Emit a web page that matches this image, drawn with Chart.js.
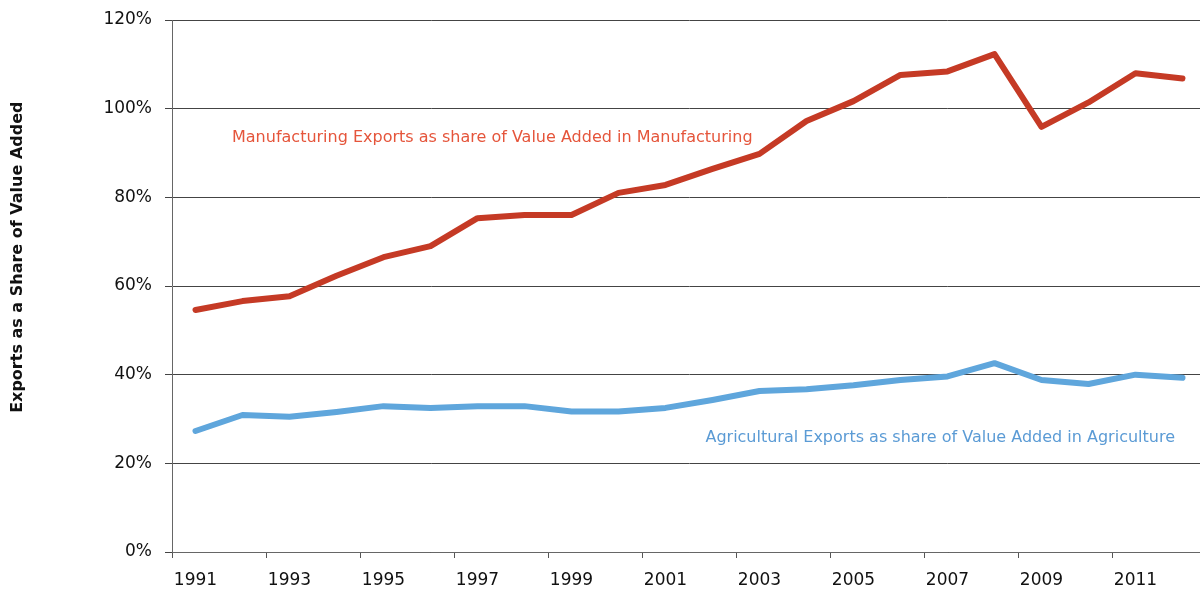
<!DOCTYPE html>
<html>
<head>
<meta charset="utf-8">
<script src="https://cdn.jsdelivr.net/npm/chart.js@4/dist/chart.umd.min.js"></script>
<style>
    html, body { margin: 0; padding: 0; background: #fff; overflow: hidden; }
    #wrap { width: 1206px; height: 590px; }
</style>
</head>
<body>
<div id="wrap"><canvas id="exports-chart"></canvas></div>
<script>
// Años (eje X) y series en % del valor agregado
const years = ['1991', '1992', '1993', '1994', '1995', '1996', '1997', '1998', '1999', '2000', '2001',
    '2002', '2003', '2004', '2005', '2006', '2007', '2008', '2009', '2010', '2011', '2012'];

const manufacturingShare = [54.6, 56.6, 57.7, 62.3, 66.5, 69.0, 75.3, 76.0, 76.0, 81.0, 82.8,
    86.4, 89.8, 97.2, 101.7, 107.6, 108.4, 112.3, 95.9, 101.4, 108.0, 106.8];

const agricultureShare = [27.3, 30.9, 30.5, 31.6, 32.9, 32.5, 32.9, 32.9, 31.7, 31.7, 32.5,
    34.3, 36.3, 36.7, 37.6, 38.8, 39.6, 42.6, 38.8, 37.9, 40.0, 39.3];

const yTicks = [0, 20, 40, 60, 80, 100, 120];

const RED = '#c53a25';
const BLUE = '#5fa6dc';
const FONT = '"DejaVu Sans", sans-serif';

// Etiquetas de texto junto a cada serie y título vertical del eje Y
const seriesLabels = {
    id: 'seriesLabels',
    afterDatasetsDraw(chart) {
        const { ctx, chartArea, scales } = chart;
        ctx.save();
        ctx.font = '16px ' + FONT;
        ctx.textBaseline = 'middle';

        ctx.fillStyle = '#e5553b';
        ctx.textAlign = 'left';
        ctx.fillText('Manufacturing Exports as share of Value Added in Manufacturing',
            chartArea.left + 60, scales.y.getPixelForValue(93.4));

        ctx.fillStyle = '#5b9bd5';
        ctx.textAlign = 'right';
        ctx.fillText('Agricultural Exports as share of Value Added in Agriculture',
            chartArea.right - 31, scales.y.getPixelForValue(25.7));

        // título del eje, algo por encima del centro
        ctx.translate(18, scales.y.getPixelForValue(66.5));
        ctx.rotate(-Math.PI / 2);
        ctx.fillStyle = '#111';
        ctx.textAlign = 'center';
        ctx.font = 'bold 16px ' + FONT;
        ctx.fillText('Exports as a Share of Value Added', 0, 0);
        ctx.restore();
    }
};

new Chart(document.getElementById('exports-chart'), {
    type: 'line',
    data: {
        labels: years,
        datasets: [
            { data: manufacturingShare, borderColor: RED, borderWidth: 6 },
            { data: agricultureShare, borderColor: BLUE, borderWidth: 6 }
        ]
    },
    options: {
        responsive: true,
        maintainAspectRatio: false,
        animation: false,
        layout: { padding: { top: 20, right: 0, bottom: 0, left: 0 } },
        elements: {
            point: { radius: 0 },
            line: { tension: 0, borderCapStyle: 'round', borderJoinStyle: 'round' }
        },
        plugins: {
            legend: { display: false },
            tooltip: { enabled: false }
        },
        scales: {
            x: {
                offset: true,
                afterFit(scale) { scale.height = 38; },
                grid: {
                    offset: true,
                    drawOnChartArea: false,
                    tickLength: 6,
                    tickColor: (c) => (c.index % 2 === 0 ? '#555' : 'rgba(0,0,0,0)')
                },
                border: { color: '#666', width: 1 },
                ticks: {
                    autoSkip: false,
                    maxRotation: 0,
                    padding: 12,
                    color: '#111',
                    font: { family: FONT, size: 17 },
                    callback: function (val, i) {
                        return i % 2 === 0 ? this.getLabelForValue(val) : '';
                    }
                }
            },
            y: {
                min: 0,
                max: 120,
                afterFit(scale) {
                    scale.width = 172;
                    scale.paddingTop = 0;
                    scale.paddingBottom = 0;
                },
                afterBuildTicks(scale) { scale.ticks = yTicks.map(v => ({ value: v })); },
                grid: { color: '#444', lineWidth: 1, tickLength: 7 },
                border: { color: '#666', width: 1 },
                ticks: {
                    padding: 13,
                    color: '#111',
                    font: { family: FONT, size: 17 },
                    callback: (v) => v + '%'
                }
            }
        }
    },
    plugins: [seriesLabels]
});
</script>
</body>
</html>
